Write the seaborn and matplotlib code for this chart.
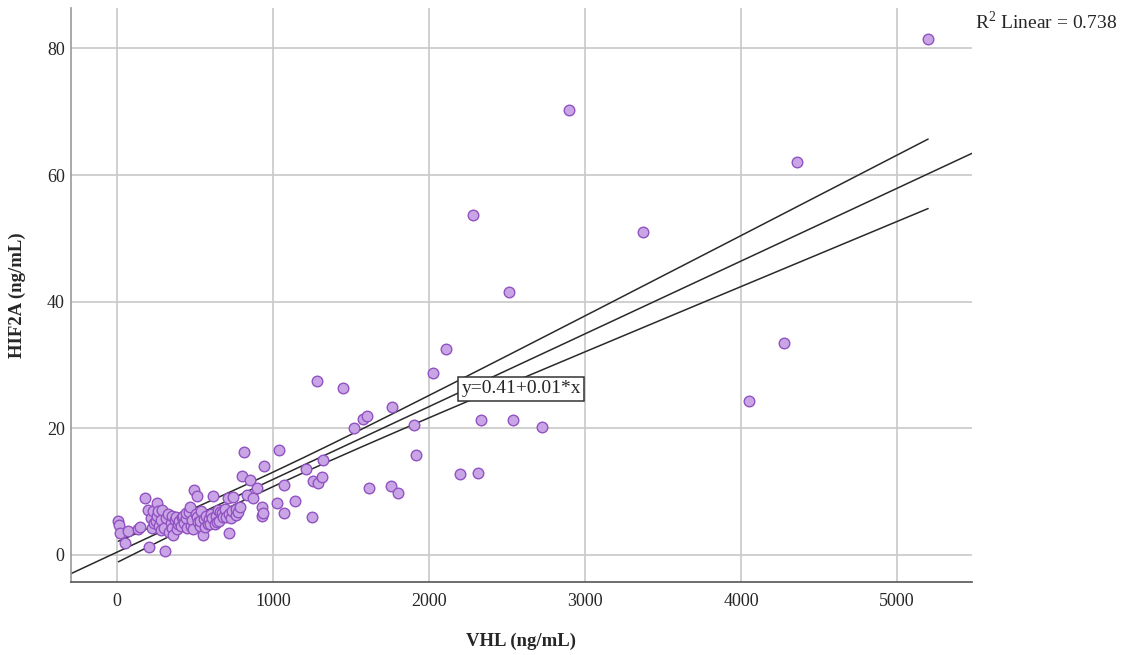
import numpy as np
import pandas as pd
import matplotlib
matplotlib.use("Agg")
import matplotlib.pyplot as plt
import seaborn as sns

# ---- data ----
vhl = [9, 15, 19, 51, 68, 137, 147, 179, 196, 207, 215, 225, 230, 240, 250, 254, 258, 265,
       270, 280, 285, 290, 300, 308, 312, 325, 335, 345, 350, 355, 360, 370, 380, 385, 390,
       400, 410, 415, 420, 430, 440, 445, 450, 460, 470, 475, 480, 490, 496, 505, 510, 515,
       520, 530, 535, 540, 553, 560, 565, 570, 580, 590, 595, 600, 610, 617, 625, 635, 640,
       645, 655, 660, 670, 680, 690, 700, 710, 718, 720, 730, 740, 745, 760, 765, 775, 788,
       799, 812, 830, 853, 874, 895, 927, 932, 938, 942, 1026, 1038, 1068, 1071, 1139, 1212,
       1252, 1254, 1280, 1291, 1316, 1318, 1450, 1517, 1579, 1603, 1613, 1756, 1760, 1801,
       1904, 1917, 2026, 2109, 2199, 2282, 2314, 2333, 2513, 2538, 2724, 2897, 3372, 4051,
       4276, 4359, 5199]
hif2a = [5.3, 4.7, 3.4, 1.8, 3.8, 4.1, 4.4, 9.0, 7.1, 1.3, 5.8, 4.3, 6.9, 5.0, 5.3, 8.2, 6.2, 6.9,
         4.6, 5.5, 3.9, 7.0, 4.2, 0.6, 5.8, 6.4, 3.6, 5.0, 4.3, 6.1, 3.2, 5.5, 6.0, 4.1, 4.8,
         5.3, 4.5, 5.9, 6.2, 5.0, 5.8, 6.6, 4.2, 6.8, 7.5, 4.6, 5.5, 4.0, 10.2, 6.4, 9.3, 6.0,
         5.2, 4.6, 5.3, 6.9, 3.2, 5.6, 4.4, 6.1, 4.9, 5.7, 4.9, 6.5, 5.8, 9.3, 4.8, 6.2, 5.1,
         7.0, 5.4, 6.8, 6.6, 5.9, 7.3, 6.0, 9.0, 3.5, 6.4, 5.8, 6.9, 9.2, 6.3, 7.2, 6.7, 7.6,
         12.4, 16.3, 9.4, 11.8, 9.0, 10.5, 6.05, 7.5, 6.6, 14.1, 8.2, 16.6, 11.0, 6.6, 8.5, 13.6,
         5.95, 11.7, 27.4, 11.3, 12.3, 14.9, 26.4, 20.1, 21.4, 22.0, 10.5, 10.8, 23.3, 9.7,
         20.5, 15.7, 28.8, 32.5, 12.8, 53.7, 12.9, 21.3, 41.5, 21.3, 20.2, 70.3, 51.0, 24.3,
         33.5, 62.1, 81.5]

fit_intercept = 0.41
fit_slope = 0.0115
r2_text = "R$^2$ Linear = 0.738"
eq_text = "y=0.41+0.01*x"
x_ticks = [0, 1000, 2000, 3000, 4000, 5000]
y_ticks = [0, 20, 40, 60, 80]

df = pd.DataFrame({"VHL": vhl, "HIF2A": hif2a})

sns.set_style("white")
plt.rcParams["font.family"] = ["Liberation Serif", "DejaVu Serif"]
plt.rcParams["mathtext.fontset"] = "custom"
plt.rcParams["mathtext.rm"] = "Liberation Serif"

fig = plt.figure(figsize=(11.36, 6.55), dpi=100)
ax = fig.add_axes([0.0625, 0.1115, 0.7931, 0.8763])
ax.set_xlim(-295, 5480)
ax.set_ylim(-4.3, 86.4)
ax.set_xticks(x_ticks)
ax.set_yticks(y_ticks)
ax.grid(True, color="#c8c8c8", linewidth=1.2)
ax.set_axisbelow(True)

# regression line and 95% mean confidence band
x = np.asarray(vhl, float)
y = np.asarray(hif2a, float)
n = len(x)
pred = fit_intercept + fit_slope * x
s = np.sqrt(np.sum((y - pred) ** 2) / (n - 2))
xbar = x.mean()
sxx = np.sum((x - xbar) ** 2)
tval = 1.976
xx = np.linspace(x.min(), x.max(), 200)
yy = fit_intercept + fit_slope * xx
half = tval * s * np.sqrt(1.0 / n + (xx - xbar) ** 2 / sxx)
xfull = np.array(ax.get_xlim())
ax.plot(xfull, fit_intercept + fit_slope * xfull, color="#2a2a2a", lw=1.1, zorder=2)
ax.plot(xx, yy + half, color="#2a2a2a", lw=1.1, zorder=2)
ax.plot(xx, yy - half, color="#2a2a2a", lw=1.1, zorder=2)

sns.scatterplot(data=df, x="VHL", y="HIF2A", ax=ax, s=58, color="#c9a5e6",
                edgecolor="#9152c2", linewidth=1.0, zorder=3)

ax.text(2590, 26.2, eq_text, ha="center", va="center", fontsize=14, zorder=4,
        bbox=dict(boxstyle="square,pad=0.18", facecolor="white", edgecolor="#333333", lw=1.1))
fig.text(0.858, 0.966, r2_text, ha="left", va="center", fontsize=14)

ax.set_xlabel("VHL (ng/mL)", fontsize=13.5, fontweight="bold", labelpad=16)
ax.set_ylabel("HIF2A (ng/mL)", fontsize=13.5, fontweight="bold", labelpad=15)
ax.tick_params(axis="x", labelsize=13, length=0, pad=8)
ax.tick_params(axis="y", labelsize=13, length=0, pad=4.5)
for sp in ["top", "right"]:
    ax.spines[sp].set_visible(False)
ax.spines["left"].set_color("#999999")
ax.spines["bottom"].set_color("#555555")
ax.spines["left"].set_linewidth(1.2)
ax.spines["bottom"].set_linewidth(1.2)

fig.savefig("out.png", dpi=100)
